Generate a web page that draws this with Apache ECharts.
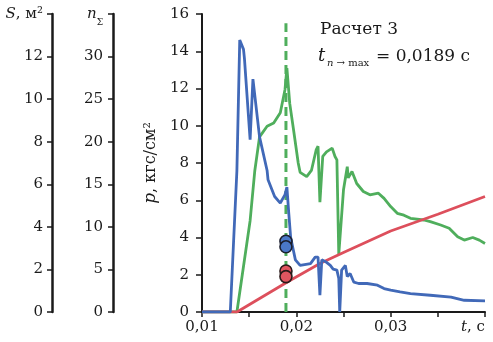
<!DOCTYPE html>
<html>
<head>
<meta charset="utf-8">
<script src="https://cdn.jsdelivr.net/npm/echarts@6/dist/echarts.min.js"></script>
<style>
html,body{margin:0;padding:0;background:#fff;}
#c{width:493px;height:342px;}
</style>
</head>
<body>
<div id="c"></div>
<script>
// ---- data (in p-axis units) ----
const tBlue = [0.0100,0.0130,0.0137,0.0140,0.0144,0.0145,0.0151,0.0154,0.0161,0.0169,0.0170,0.0177,0.0183,0.0188,0.0190,0.0192,0.0194,0.0199,0.0204,0.0215,0.0220,0.0223,0.0225,0.0227,0.0231,0.0236,0.0239,0.0243,0.0245,0.0246,0.0248,0.0252,0.0254,0.0257,0.0261,0.0266,0.0275,0.0286,0.0293,0.0300,0.0310,0.0321,0.0342,0.0364,0.0378,0.0400];
const pBlue = [0,0,7.6,14.6,14.1,13.6,9.25,12.5,9.4,7.6,7.1,6.2,5.85,6.3,6.7,5.3,4.0,2.8,2.5,2.6,2.95,2.95,0.9,2.8,2.7,2.5,2.3,2.25,1.8,0,2.25,2.5,1.9,2.07,1.6,1.53,1.53,1.44,1.26,1.17,1.08,0.99,0.9,0.8,0.63,0.6];

const tGreen = [0.0100,0.0137,0.0151,0.0156,0.0161,0.0169,0.0176,0.0183,0.0188,0.0190,0.0193,0.0197,0.0202,0.0204,0.0211,0.0216,0.0221,0.0223,0.0225,0.0228,0.0232,0.0238,0.0241,0.0243,0.0245,0.0250,0.0254,0.0255,0.0259,0.0264,0.0271,0.0278,0.0287,0.0293,0.0300,0.0307,0.0314,0.0321,0.0335,0.0342,0.0353,0.0362,0.0371,0.0378,0.0387,0.0394,0.0400];
const pGreen = [0,0,4.9,7.6,9.4,9.97,10.15,10.7,11.95,13.1,11.2,9.8,8.0,7.5,7.27,7.6,8.7,8.9,5.9,8.35,8.6,8.8,8.35,8.17,3.1,6.56,7.8,7.2,7.54,6.9,6.47,6.29,6.38,6.1,5.66,5.3,5.2,5.03,4.94,4.85,4.67,4.5,4.04,3.86,4.0,3.86,3.68];

const tRed = [0.0100,0.0137,0.0190,0.0225,0.0250,0.0300,0.0350,0.0400];
const pRed = [0,0,1.6,2.6,3.2,4.35,5.25,6.2];

const tMark = 0.0189;
const markTop = 15.5;
const blueDots = [3.8, 3.5];
const redDots = [2.2, 1.9];

const xTickValues = [0.01, 0.02, 0.03];
const xTickLabels = ['0,01', '0,02', '0,03'];
const xAxisTitle = '{i|t}, с';
const pAxisTitle = '{i|p}, кгс/см²';
const sAxisTitle = '{i|S}, м²';
const nAxisTitle = '{i|n}{sub|Σ}';
const noteLine1 = 'Расчет 3';
const noteT = 't';
const noteSub = '{i|n} → max';
const noteValue = '= 0,0189 с';

// ---- chart ----
const FONT = 'DejaVu Serif';
const INK = '#1a1a1a';
const BLUE = '#4169b8', GREEN = '#4fae5c', RED = '#dd4f5c';
const zip = (a, b) => a.map((v, i) => [v, b[i]]);

const chart = echarts.init(document.getElementById('c'), null, {renderer: 'canvas'});

const sideAxis = (offset, max, interval, title, margin) => ({
  type: 'value', position: 'left', offset: offset, min: 0, max: max, interval: interval,
  splitLine: {show: false},
  axisLine: {show: true, lineStyle: {color: INK, width: 2.5}},
  axisTick: {show: true, length: 5, lineStyle: {color: INK, width: 1.5}},
  axisLabel: {
    margin: margin, color: INK, fontFamily: FONT, fontSize: 15,
    formatter: v => (v === max ? title : String(v)),
    rich: {
      i: {fontFamily: FONT, fontSize: 15, fontStyle: 'italic', color: INK},
      sub: {fontFamily: FONT, fontSize: 9, color: INK, verticalAlign: 'bottom', lineHeight: 9, padding: [0,0,-6,0]}
    }
  }
});

chart.setOption({
  animation: false,
  backgroundColor: '#fff',
  grid: {left: 202, right: 8, top: 14, bottom: 30, containLabel: false},
  xAxis: {
    type: 'value', min: 0.01, max: 0.04, interval: 0.005,
    splitLine: {show: false},
    axisLine: {show: true, lineStyle: {color: INK, width: 2}},
    axisTick: {show: true, length: 5, lineStyle: {color: INK, width: 1.5}},
    axisLabel: {
      margin: 8, color: INK, fontFamily: FONT, fontSize: 15,
      alignMaxLabel: 'right',
      formatter: v => {
        const k = Math.round(v * 1000);
        if (k === 40) return xAxisTitle;
        const idx = xTickValues.findIndex(x => Math.round(x * 1000) === k);
        return idx >= 0 ? xTickLabels[idx] : '';
      },
      rich: {i: {fontFamily: FONT, fontSize: 15, fontStyle: 'italic', color: INK}}
    }
  },
  yAxis: [
    {
      type: 'value', position: 'left', min: 0, max: 16, interval: 2,
      splitLine: {show: false},
      axisLine: {show: true, lineStyle: {color: INK, width: 2}},
      axisTick: {show: true, length: 6, lineStyle: {color: INK, width: 1.5}},
      axisLabel: {margin: 13, color: INK, fontFamily: FONT, fontSize: 15},
      name: pAxisTitle, nameLocation: 'middle', nameRotate: 90, nameGap: 29,
      nameTextStyle: {
        color: INK, fontFamily: FONT, fontSize: 16,
        rich: {i: {fontFamily: FONT, fontSize: 17, fontStyle: 'italic', color: INK}}
      }
    },
    sideAxis(150, 14, 2, sAxisTitle, 9),
    sideAxis(89, 35, 5, nAxisTitle, 10)
  ],
  graphic: [
    {type: 'text', left: 320, top: 21, z: 100,
     style: {text: noteLine1, fontFamily: FONT, fontSize: 17, fill: INK}},
    {type: 'text', left: 318, top: 47, z: 100,
     style: {text: noteT, fontFamily: FONT, fontSize: 18, fontStyle: 'italic', fill: INK}},
    {type: 'text', left: 327, top: 58, z: 100,
     style: {text: noteSub, fontFamily: FONT, fontSize: 10, fill: INK,
       rich: {i: {fontFamily: FONT, fontSize: 10, fontStyle: 'italic', fill: INK}}}},
    {type: 'text', left: 376, top: 48, z: 100,
     style: {text: noteValue, fontFamily: FONT, fontSize: 17, fill: INK}}
  ],
  series: [
    {type: 'line', name: 'mark', data: [[tMark, 0], [tMark, markTop]], symbol: 'none', z: 1,
     lineStyle: {color: GREEN, width: 3, type: [9, 5]}},
    {type: 'line', name: 'green', data: zip(tGreen, pGreen), symbol: 'none', z: 2,
     lineStyle: {color: GREEN, width: 2.8}},
    {type: 'line', name: 'red', data: zip(tRed, pRed), symbol: 'none', z: 3,
     lineStyle: {color: RED, width: 2.8}},
    {type: 'line', name: 'blue', data: zip(tBlue, pBlue), symbol: 'none', z: 4,
     lineStyle: {color: BLUE, width: 2.8}},
    {type: 'scatter', name: 'blueDots', data: blueDots.map(v => [tMark, v]), symbolSize: 12, z: 10,
     itemStyle: {color: '#4a78c8', borderColor: '#1b1f2e', borderWidth: 1.6, opacity: 1}},
    {type: 'scatter', name: 'redDots', data: redDots.map(v => [tMark, v]), symbolSize: 12, z: 10,
     itemStyle: {color: '#e05560', borderColor: '#2a1a1a', borderWidth: 1.6, opacity: 1}}
  ]
});
</script>
</body>
</html>
